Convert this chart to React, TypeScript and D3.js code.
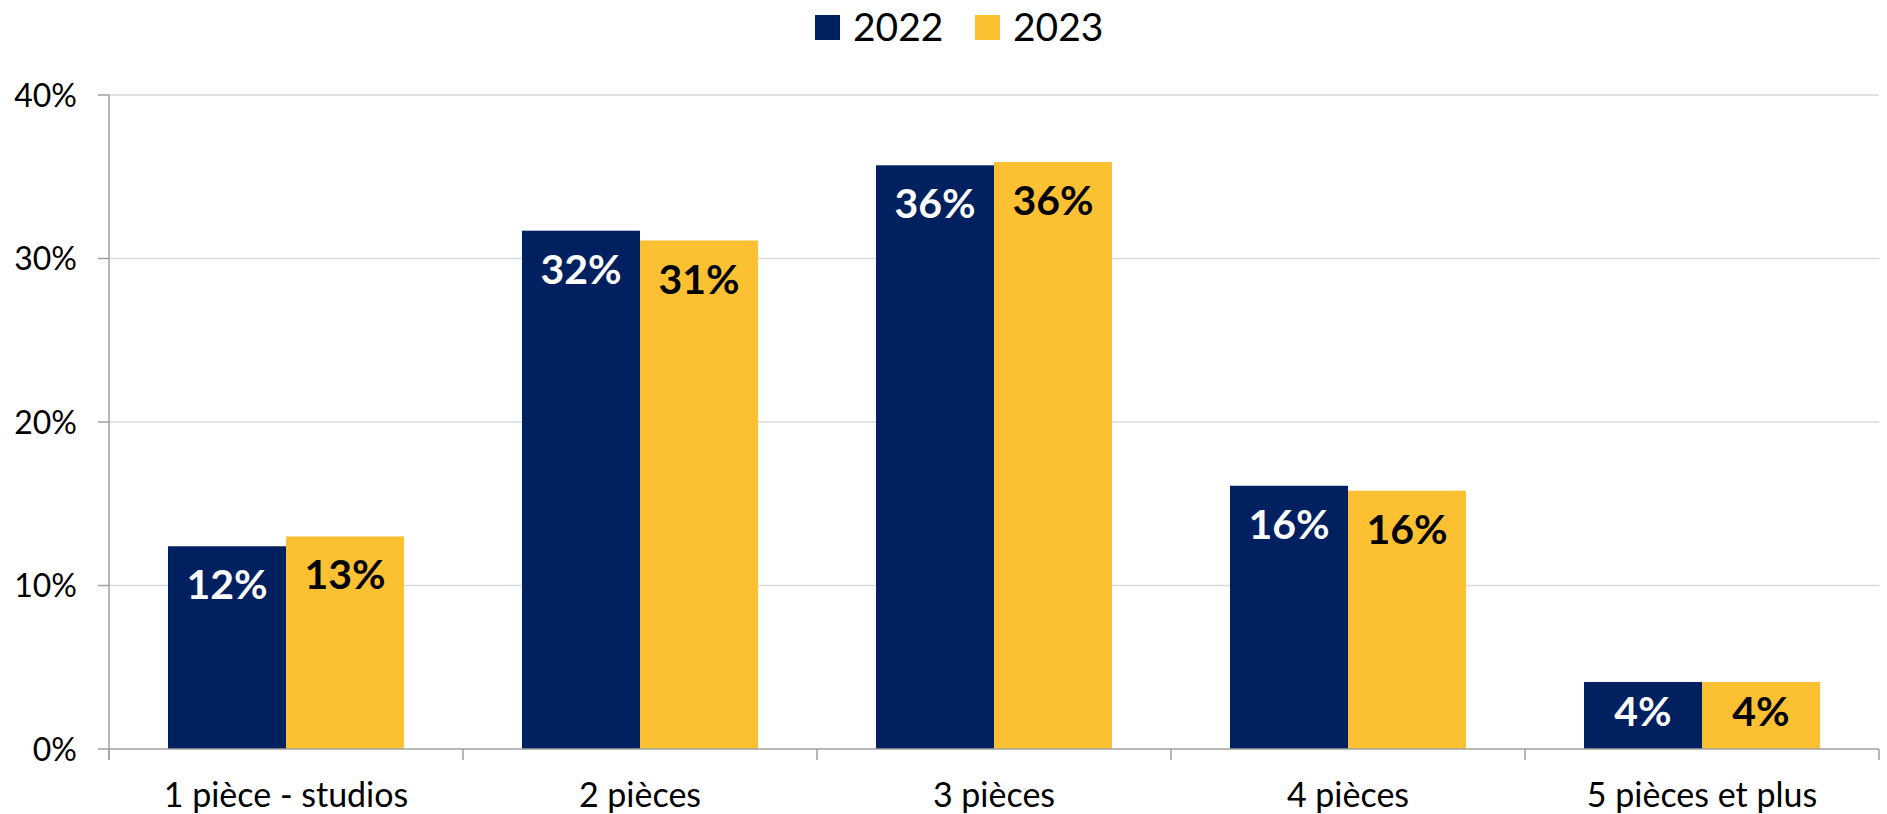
import React, { useEffect } from "react";
import * as d3 from "d3";

const categories = ["1 pièce - studios", "2 pièces", "3 pièces", "4 pièces", "5 pièces et plus"];
const seriesNames = ["2022", "2023"];
const values2022 = [0.124, 0.317, 0.357, 0.161, 0.041];
const values2023 = [0.130, 0.311, 0.359, 0.158, 0.041];
const yTicks = [0, 0.1, 0.2, 0.3, 0.4];
const colors = ["#002060", "#FBC133"];
const labelColors = ["#FFFFFF", "#000000"];

const W = 1887;
const H = 814;
const FONT = "Lato, 'Open Sans', sans-serif";

export default function App() {
  useEffect(() => {
    document.body.style.margin = "0";
  }, []);

  const x = d3.scaleBand<string>().domain(categories).range([109, 1879]).paddingInner(0).paddingOuter(0);
  const xs = d3.scaleBand<string>().domain(seriesNames).range([0, x.bandwidth()]).paddingInner(0).paddingOuter(0.5);
  const y = d3.scaleLinear().domain([0, 0.4]).range([749, 95]);
  const fmt = d3.format(".0%");
  const seriesValues = [values2022, values2023];

  const boundaries = [...categories.map((c) => x(c) as number), 1879];

  return (
    <svg width={W} height={H} style={{ display: "block", fontFamily: FONT }}>
      <rect width={W} height={H} fill="#fff" />
      {/* gridlines */}
      {yTicks.filter((t) => t > 0).map((t) => (
        <line key={"g" + t} x1={109} x2={1879} y1={y(t)} y2={y(t)} stroke="#D9D9D9" strokeWidth={1.5} />
      ))}
      {/* y ticks and labels */}
      {yTicks.map((t) => (
        <g key={"t" + t}>
          <line x1={98} x2={109} y1={y(t)} y2={y(t)} stroke="#A0A0A0" strokeWidth={1.5} />
          <text x={77} y={y(t)} dy="0.36em" textAnchor="end" fontSize={32} fill="#000">
            {fmt(t)}
          </text>
        </g>
      ))}
      {/* bars */}
      {categories.map((c, i) => (
        <g key={c} transform={`translate(${x(c)},0)`}>
          {seriesNames.map((s, j) => {
            const v = seriesValues[j][i];
            const top = y(v);
            const base = y(0);
            const bx = xs(s) as number;
            const ly = Math.min(top + 53, (top + base) / 2 + 11);
            return (
              <g key={s}>
                <rect x={bx} y={top} width={xs.bandwidth()} height={base - top} fill={colors[j]} />
                <text
                  x={bx + xs.bandwidth() / 2}
                  y={ly}
                  textAnchor="middle"
                  fontSize={41}
                  fontWeight={700}
                  fill={labelColors[j]}
                >
                  {fmt(v)}
                </text>
              </g>
            );
          })}
        </g>
      ))}
      {/* axes */}
      <line x1={109} x2={109} y1={y(0.4)} y2={y(0) + 11} stroke="#A0A0A0" strokeWidth={1.5} />
      <line x1={109} x2={1879} y1={y(0)} y2={y(0)} stroke="#A0A0A0" strokeWidth={1.5} />
      {boundaries.map((b, i) => (
        <line key={"b" + i} x1={b} x2={b} y1={y(0)} y2={y(0) + 11} stroke="#A0A0A0" strokeWidth={1.5} />
      ))}
      {/* category labels */}
      {categories.map((c) => (
        <text key={"c" + c} x={(x(c) as number) + x.bandwidth() / 2} y={807} textAnchor="middle" fontSize={34} fill="#000">
          {c}
        </text>
      ))}
      {/* legend */}
      {seriesNames.map((s, j) => {
        const lx = [815, 975][j];
        return (
          <g key={"l" + s}>
            <rect x={lx} y={15} width={25} height={25} fill={colors[j]} />
            <text x={lx + 38} y={41} fontSize={39} fill="#000">
              {s}
            </text>
          </g>
        );
      })}
    </svg>
  );
}
